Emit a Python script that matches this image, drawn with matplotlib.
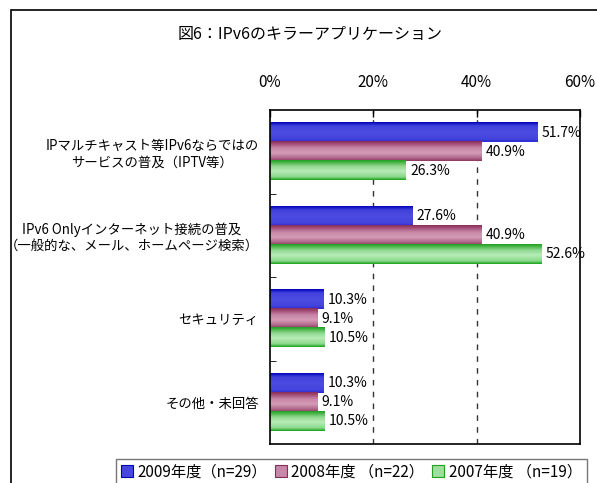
import numpy as np
import matplotlib.pyplot as plt
from matplotlib.colors import LinearSegmentedColormap
from matplotlib.patches import Rectangle, Patch

plt.rcParams['font.family'] = ['Noto Sans CJK JP', 'DejaVu Sans']

# --- datos ---
categorias = [
    'IPマルチキャスト等IPv6ならではの\nサービスの普及（IPTV等）',
    'IPv6 Onlyインターネット接続の普及\n（一般的な、メール、ホームページ検索）',
    'セキュリティ',
    'その他・未回答',
]
v2009 = [51.7, 27.6, 10.3, 10.3]
v2008 = [40.9, 40.9, 9.1, 9.1]
v2007 = [26.3, 52.6, 10.5, 10.5]
series_labels = ['2009年度（n=29）', '2008年度 （n=22）', '2007年度 （n=19）']
x_ticks = [0, 20, 40, 60]
titulo = '図6：IPv6のキラーアプリケーション'

# degradados verticales de cada serie (posición, color)
degradados = [
    [(0, '#0000b8'), (0.18, '#4040dc'), (0.5, '#4c4ce2'), (0.85, '#4444de'), (1, '#2a2ad0')],
    [(0, '#8a2a58'), (0.35, '#c887a8'), (0.6, '#d49bb6'), (0.85, '#b06a8c'), (1, '#8e3462')],
    [(0, '#1fa01f'), (0.3, '#90d890'), (0.55, '#b8ecb8'), (0.85, '#8cd88c'), (1, '#18a018')],
]
color_leyenda = [('#0000b8', '#4848e0'), ('#8a2a58', '#c887a8'), ('#1fa01f', '#9ede9e')]

fig = plt.figure(figsize=(5.97, 4.83), dpi=100)
fig.patches.append(Rectangle((11 / 597, -0.1), 1.2, 1 - 10 / 483 + 0.1,
                             transform=fig.transFigure, fill=False,
                             edgecolor='black', linewidth=1.2))

ax = fig.add_axes([270 / 597, 1 - 444 / 483, 310 / 597, 334 / 483])

h = 0.228
series = [v2009, v2008, v2007]
grad = np.linspace(0, 1, 64).reshape(-1, 1)
for k, (vals, stops) in enumerate(zip(series, degradados)):
    cmap = LinearSegmentedColormap.from_list(f'g{k}', stops)
    for i, v in enumerate(vals):
        yc = i + (k - 1) * h
        ax.imshow(grad, cmap=cmap, aspect='auto', origin='upper',
                  extent=(0, v, yc + h / 2, yc - h / 2), zorder=2,
                  interpolation='bilinear')
        ax.text(v + 0.8, yc, f'{v}%', va='center', ha='left', fontsize=10,
                zorder=4)

ax.set_xlim(0, 60)
ax.set_ylim(3.5, -0.5)

for gx in [20, 40]:
    ax.axvline(gx, color='#333333', linewidth=1, linestyle=(0, (4, 4.5)),
               zorder=1)

ax.xaxis.tick_top()
ax.set_xticks(x_ticks)
ax.set_xticklabels([f'{t}%' for t in x_ticks], fontsize=11)
ax.tick_params(axis='x', direction='in', length=5, pad=14, width=1)

ax.set_yticks(range(len(categorias)))
ax.set_yticklabels(categorias, fontsize=9.6, multialignment='center')
ax.tick_params(axis='y', length=0, pad=8)
ax.set_yticks([0.5, 1.5, 2.5], minor=True)
ax.tick_params(axis='y', which='minor', direction='in', length=4)

for s in ax.spines.values():
    s.set_linewidth(1.2)

fig.text(310 / 597, 1 - 35 / 483, titulo, ha='center', va='center', fontsize=11.5)

handles = [Patch(facecolor=m, edgecolor=e, linewidth=0.8) for e, m in color_leyenda]
leg = fig.legend(handles, series_labels, loc='upper left',
                 bbox_to_anchor=(116 / 597, 1 - 459 / 483), ncol=3,
                 fontsize=11, frameon=True, fancybox=False,
                 handlelength=0.8, handleheight=0.8, handletextpad=0.3,
                 columnspacing=0.5, borderpad=0.3, borderaxespad=0)
leg.get_frame().set_edgecolor('#555555')
leg.get_frame().set_linewidth(1)

fig.savefig('out.png', dpi=100)
